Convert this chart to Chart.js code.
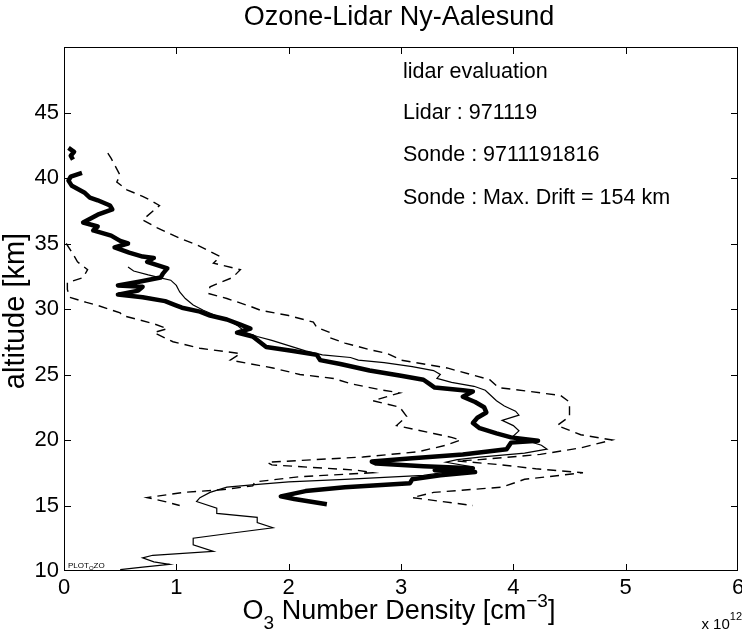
<!DOCTYPE html>
<html>
<head>
<meta charset="utf-8">
<script src="https://cdn.jsdelivr.net/npm/chart.js@4/dist/chart.umd.min.js"></script>
<style>
  html, body { margin: 0; padding: 0; background: #fff; }
  #wrap { width: 742px; height: 636px; }
</style>
</head>
<body>
<div id="wrap"><canvas id="c" width="742" height="636"></canvas></div>
<script>
// Axis ticks (O3 number density in units of 1e12 cm^-3, altitude in km)
const densityTicks = [0, 1, 2, 3, 4, 5, 6];
const altitudeTicks = [10, 15, 20, 25, 30, 35, 40, 45];

// Lidar profile, 19 Nov 1997 (null marks a data gap)
const lidarAlt = [42.3, 42.0, 41.7, 41.4, 41.0, 40.4, 40.1, 39.8, 39.4, 38.9,
                  38.5, 38.3, 37.9, 37.6, 37.2, 36.6, 36.3, 36.0, 35.6, 35.2,
                  35.0, 34.7, 34.3, 34.0, 33.9, 33.6, 33.1, 32.7, 32.4, 32.1,
                  31.8, 31.7, 31.4, 31.1, 30.9, 30.6, 30.3, 30.1, 29.8, 29.5,
                  29.2, 28.8, 28.5, 28.2, 27.9, 27.5, 27.1, 26.8, 26.5, 26.1,
                  25.8, 25.3, 24.9, 24.6, 24.3, 24.0, 23.8, 23.7, 23.3, 22.9,
                  22.5, 22.1, 21.7, 21.3, 20.9, 20.5, 20.2, 19.95, 19.8, 19.3,
                  18.9, 18.6, 18.35, 18.2, 18.0, 17.85, 17.7, 17.55, 17.3, 17.0,
                  16.7, 16.4, 16.1, 15.7, 15.5, 15.1];
const lidarO3 = [0.04, 0.09, 0.06, 0.08, null, 0.16, 0.06, 0.04, 0.07, 0.18,
                 0.23, 0.30, 0.41, 0.43, 0.30, 0.17, 0.30, 0.26, 0.42, 0.50,
                 0.57, 0.45, 0.58, 0.70, 0.80, 0.74, 0.92, 0.88, 0.86, 0.68,
                 0.48, 0.70, 0.66, 0.48, 0.70, 0.90, 0.99, 1.05, 1.21, 1.30,
                 1.45, 1.57, 1.66, 1.54, 1.68, 1.74, 1.80, 2.04, 2.25, 2.28,
                 2.46, 2.72, 3.00, 3.20, 3.25, 3.30, 3.55, 3.64, 3.55, 3.66,
                 3.74, 3.76, 3.68, 3.64, 3.70, 3.85, 3.98, 4.22, 3.98, 3.94,
                 3.55, 3.10, 2.74, 2.78, 3.20, 3.64, 3.30, 3.66, 3.35, 3.10,
                 3.08, 2.50, 2.15, 1.93, 2.05, 2.34];

// Upper error bound of the lidar profile
const upperAlt = [41.9, 41.5, 40.2, 39.7, 39.1, 38.6, 38.3, 37.9, 36.8, 36.2,
                  35.4, 34.9, 34.0, 33.5, 33.0, 32.4, 31.7, 31.2, 30.8, 30.2,
                  29.9, 29.5, 29.0, 28.6, 28.2, 27.8, 27.4, 26.9, 26.6, 26.1,
                  25.5, 24.6, 24.0, 23.7, 23.4, 22.9, 22.4, 21.8, 21.1, 20.4,
                  20.0, 19.4, 18.9, 18.5, 18.4, 18.1, 17.8, 17.5, 17.0, 16.4,
                  16.0, 15.6, 15.0];
const upperO3 = [0.39, 0.42, 0.50, 0.47, 0.56, 0.70, 0.77, 0.85, 0.70, 0.83,
                 1.03, 1.18, 1.39, 1.33, 1.57, 1.50, 1.30, 1.28, 1.45, 1.66,
                 1.75, 2.00, 2.22, 2.25, 2.37, 2.37, 2.50, 2.72, 2.88, 3.00,
                 3.41, 3.79, 3.87, 4.15, 4.42, 4.50, 4.50, 4.50, 4.39, 4.60,
                 4.88, 4.60, 4.24, 3.70, 3.50, 3.90, 4.20, 4.62, 4.10, 3.90,
                 3.29, 3.10, 3.64];

// Lower error bound of the lidar profile
const lowerAlt = [35.0, 34.2, 33.6, 33.0, 32.4, 32.0, 31.5, 30.9, 30.5, 30.3,
                  29.7, 29.5, 28.9, 28.5, 28.2, 27.5, 27.0, 26.6, 26.1, 25.5,
                  25.0, 24.7, 24.3, 23.8, 23.6, 23.0, 22.5, 21.8, 21.1, 20.5,
                  20.2, 20.0, 19.6, 19.1, 18.7, 18.3, 18.1, 17.7, 17.5, 17.2,
                  16.8, 16.5, 16.2, 16.0, 15.6, 15.3, 15.0];
const lowerO3 = [0.02, 0.08, 0.12, 0.21, 0.17, 0.03, 0.03, 0.05, 0.20, 0.29,
                 0.50, 0.52, 0.79, 0.92, 0.80, 0.97, 1.21, 1.57, 1.48, 1.86,
                 2.10, 2.40, 2.55, 2.84, 2.99, 2.75, 2.99, 3.05, 2.96, 3.29,
                 3.45, 3.53, 3.40, 3.15, 2.66, 1.81, 1.85, 2.60, 2.75, 2.10,
                 1.70, 1.68, 1.40, 1.06, 0.74, 0.90, 1.03];

// Ozone sonde profile, launch 9711191816
const sondeAlt = [33.2, 32.9, 32.6, 32.4, 32.2, 31.8, 31.3, 30.8, 30.3, 29.9,
                  29.5, 29.2, 28.7, 28.2, 27.9, 27.6, 27.2, 26.8, 26.5, 26.3,
                  26.1, 25.9, 25.6, 25.3, 25.0, 24.7, 24.4, 24.1, 23.8, 23.4,
                  23.0, 22.6, 22.2, 21.9, 21.5, 21.1, 20.7, 20.3, 20.0, 19.6,
                  19.3, 19.0, 18.7, 18.5, 18.3, 18.0, 17.6, 17.3, 17.0, 16.8,
                  16.6, 16.4, 16.0, 15.6, 15.3, 14.8, 14.4, 14.1, 13.7, 13.3,
                  12.9, 12.5, 12.0, 11.5, 11.2, 11.0, 10.7, 10.5, 10.3, 10.1];
const sondeO3 = [0.57, 0.62, 0.75, 0.85, 0.95, 1.00, 1.03, 1.08, 1.15, 1.24,
                 1.35, 1.45, 1.55, 1.62, 1.72, 1.85, 2.00, 2.15, 2.30, 2.55,
                 2.62, 2.85, 3.10, 3.29, 3.35, 3.32, 3.45, 3.65, 3.75, 3.80,
                 3.85, 3.92, 4.02, 4.05, 3.90, 4.00, 4.05, 4.00, 4.10, 4.25,
                 4.30, 4.10, 3.70, 3.50, 3.40, 3.60, 3.45, 3.20, 2.50, 2.00,
                 1.70, 1.45, 1.30, 1.21, 1.18, 1.36, 1.36, 1.72, 1.72, 1.86,
                 1.50, 1.15, 1.15, 1.33, 0.79, 0.70, 0.80, 0.94, 0.70, 0.50];

const infoLines = ['lidar evaluation', 'Lidar : 971119', 'Sonde : 9711191816',
                   'Sonde : Max. Drift = 154 km'];

const FONT = '"Liberation Sans", Arial, Helvetica, sans-serif';

function profile(alt, o3) {
  return alt.map((a, i) => ({ x: o3[i], y: o3[i] === null ? null : a }));
}

// Writes a run of text pieces (normal / sub / superscript) starting at x
function richText(ctx, parts, x, y, align) {
  let total = 0;
  parts.forEach(p => { ctx.font = p.size + 'px ' + FONT; p.w = ctx.measureText(p.t).width; total += p.w; });
  let cx = align === 'center' ? x - total / 2 : (align === 'right' ? x - total : x);
  parts.forEach(p => {
    ctx.font = p.size + 'px ' + FONT;
    ctx.fillText(p.t, cx, y + (p.dy || 0));
    cx += p.w;
  });
}

const framePlugin = {
  id: 'frame',
  afterDatasetsDraw(chart) {
    const ctx = chart.ctx;
    const a = chart.chartArea;
    const xs = chart.scales.x, ys = chart.scales.y;
    ctx.save();
    ctx.strokeStyle = '#000';
    ctx.lineWidth = 1;
    ctx.strokeRect(a.left + 0.5, a.top + 0.5, a.right - a.left - 1, a.bottom - a.top - 1);
    const tl = 7;
    ctx.beginPath();
    xs.ticks.forEach(t => {
      const px = Math.round(xs.getPixelForValue(t.value)) + 0.5;
      if (px <= a.left + 1 || px >= a.right - 1) return;
      ctx.moveTo(px, a.bottom); ctx.lineTo(px, a.bottom - tl);
      ctx.moveTo(px, a.top); ctx.lineTo(px, a.top + tl);
    });
    ys.ticks.forEach(t => {
      const py = Math.round(ys.getPixelForValue(t.value)) + 0.5;
      if (py <= a.top + 1 || py >= a.bottom - 1) return;
      ctx.moveTo(a.left, py); ctx.lineTo(a.left + tl, py);
      ctx.moveTo(a.right, py); ctx.lineTo(a.right - tl, py);
    });
    ctx.stroke();

    ctx.fillStyle = '#000';
    ctx.textBaseline = 'alphabetic';
    ctx.textAlign = 'left';
    // title
    richText(ctx, [{ t: 'Ozone-Lidar Ny-Aalesund', size: 27 }], 399, 25, 'center');
    // x axis label
    richText(ctx, [
      { t: 'O', size: 27 }, { t: '3', size: 19, dy: 10 },
      { t: ' Number Density [cm', size: 27 }, { t: '\u22123', size: 19, dy: -12 },
      { t: ']', size: 27 }
    ], 399, 619, 'center');
    // exponent of the x axis
    richText(ctx, [{ t: 'x 10', size: 15 }, { t: '12', size: 11, dy: -9 }], a.right + 4, 629, 'right');
    // y axis label
    ctx.save();
    ctx.translate(24, 311);
    ctx.rotate(-Math.PI / 2);
    richText(ctx, [{ t: 'altitude [km]', size: 29 }], 0, 0, 'center');
    ctx.restore();
    // info block
    ctx.textBaseline = 'middle';
    const infoY = [72, 113, 155, 198];
    infoLines.forEach((s, i) => richText(ctx, [{ t: s, size: 21.5 }], 403, infoY[i], 'left'));
    // plot tag
    ctx.textBaseline = 'alphabetic';
    richText(ctx, [{ t: 'PLOT', size: 8 }, { t: 'O', size: 6, dy: 2 }, { t: 'ZO', size: 8 }], a.left + 4, a.bottom - 3, 'left');
    ctx.restore();
  }
};

const black = '#000';
new Chart(document.getElementById('c'), {
  type: 'scatter',
  data: {
    datasets: [
      { label: 'upper', data: profile(upperAlt, upperO3), showLine: true, borderColor: black,
        borderWidth: 1.4, borderDash: [9, 6], pointRadius: 0, spanGaps: false },
      { label: 'lower', data: profile(lowerAlt, lowerO3), showLine: true, borderColor: black,
        borderWidth: 1.4, borderDash: [9, 6], pointRadius: 0, spanGaps: false },
      { label: 'sonde', data: profile(sondeAlt, sondeO3), showLine: true, borderColor: black,
        borderWidth: 1.2, pointRadius: 0, spanGaps: false },
      { label: 'lidar', data: profile(lidarAlt, lidarO3), showLine: true, borderColor: black,
        borderWidth: 4.5, borderJoinStyle: 'round', borderCapStyle: 'butt', pointRadius: 0, spanGaps: false }
    ]
  },
  options: {
    responsive: false,
    animation: false,
    devicePixelRatio: 1,
    layout: { padding: { top: 47, right: 4, left: 0, bottom: 0 } },
    plugins: { legend: { display: false }, tooltip: { enabled: false }, title: { display: false } },
    elements: { line: { tension: 0 } },
    scales: {
      x: {
        type: 'linear', min: 0, max: 6,
        afterBuildTicks: s => { s.ticks = densityTicks.map(v => ({ value: v })); },
        grid: { display: false, drawTicks: false },
        border: { display: false },
        ticks: { color: black, font: { family: FONT, size: 22 }, padding: 4, maxRotation: 0,
                 callback: v => String(v) },
        afterFit: s => { s.height = 65; s.paddingLeft = 0; s.paddingRight = 0; }
      },
      y: {
        type: 'linear', min: 10, max: 50,
        afterBuildTicks: s => { s.ticks = altitudeTicks.map(v => ({ value: v })); },
        grid: { display: false, drawTicks: false },
        border: { display: false },
        ticks: { color: black, font: { family: FONT, size: 22 }, padding: 5,
                 callback: v => String(v) },
        afterFit: s => { s.width = 64; s.paddingTop = 0; s.paddingBottom = 0; }
      }
    }
  },
  plugins: [framePlugin]
});
</script>
</body>
</html>
